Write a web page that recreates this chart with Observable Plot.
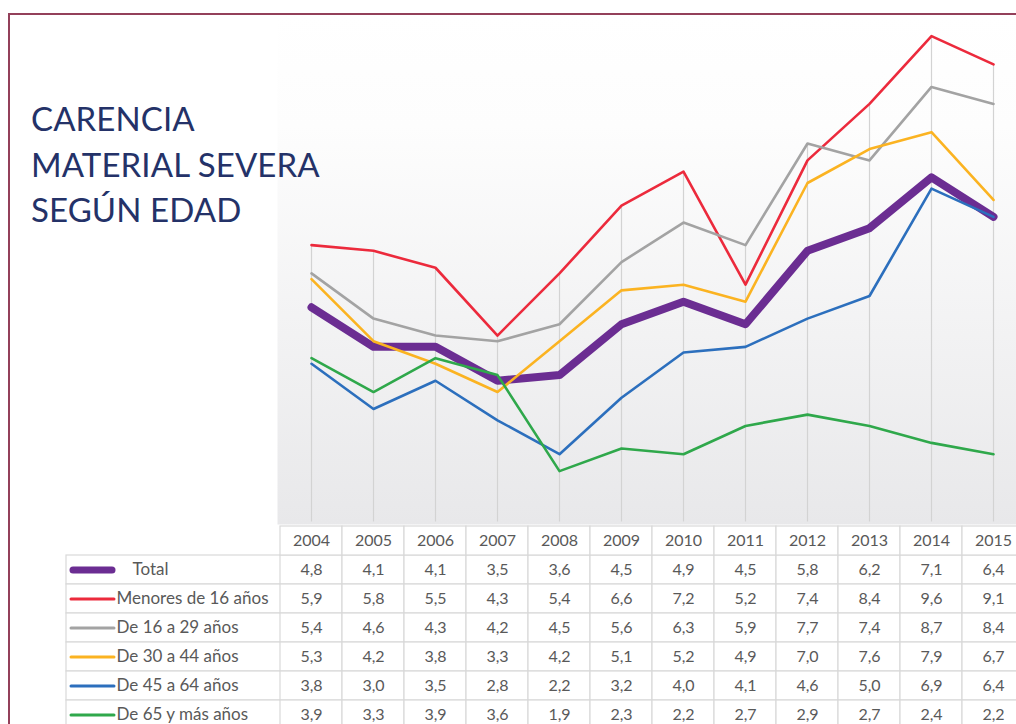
<!DOCTYPE html>
<html>
<head>
<meta charset="utf-8">
<script src="https://cdn.jsdelivr.net/npm/d3@7"></script>
<script src="https://cdn.jsdelivr.net/npm/@observablehq/plot@0.6"></script>
<style>
  html, body { margin: 0; padding: 0; background: #ffffff; }
  #wrap { position: relative; width: 1016px; height: 724px; overflow: hidden; background: #fff; }
  #border { position: absolute; left: 8px; top: 13px; width: 1100px; height: 800px;
            border-top: 2px solid #93405a; border-left: 2px solid #93405a; pointer-events: none; }
  .title { position: absolute; left: 31px; top: 96px; font-family: Lato, "Open Sans", sans-serif;
           font-size: 33px; line-height: 45.5px; color: #243268; letter-spacing: 0.1px; }
  .layer { position: absolute; left: 0; }
  .layer svg { overflow: visible; }
</style>
</head>
<body>
<div id="wrap">
  <div id="chart" class="layer" style="top:0px"></div>
  <div id="table" class="layer" style="top:520px"></div>
  <div class="title">CARENCIA<br>MATERIAL SEVERA<br>SEGÚN EDAD</div>
  <div id="border"></div>
</div>
<script>
// ---- data ----
const years = [2004, 2005, 2006, 2007, 2008, 2009, 2010, 2011, 2012, 2013, 2014, 2015];
const seriesNames = ["Total", "Menores de 16 años", "De 16 a 29 años", "De 30 a 44 años", "De 45 a 64 años", "De 65 y más años"];
const total      = [4.8, 4.1, 4.1, 3.5, 3.6, 4.5, 4.9, 4.5, 5.8, 6.2, 7.1, 6.4];
const menores16  = [5.9, 5.8, 5.5, 4.3, 5.4, 6.6, 7.2, 5.2, 7.4, 8.4, 9.6, 9.1];
const de16a29    = [5.4, 4.6, 4.3, 4.2, 4.5, 5.6, 6.3, 5.9, 7.7, 7.4, 8.7, 8.4];
const de30a44    = [5.3, 4.2, 3.8, 3.3, 4.2, 5.1, 5.2, 4.9, 7.0, 7.6, 7.9, 6.7];
const de45a64    = [3.8, 3.0, 3.5, 2.8, 2.2, 3.2, 4.0, 4.1, 4.6, 5.0, 6.9, 6.4];
const de65ymas   = [3.9, 3.3, 3.9, 3.6, 1.9, 2.3, 2.2, 2.7, 2.9, 2.7, 2.4, 2.2];
const seriesColors = ["#6b2d92", "#ec2a3c", "#a3a3a3", "#fbb321", "#2c6fbd", "#2fa84b"];

// ---- derived tables ----
const seriesValues = [total, menores16, de16a29, de30a44, de45a64, de65ymas];
const long = [];
seriesNames.forEach((name, i) => {
  years.forEach((yr, j) => long.push({series: name, year: yr, value: seriesValues[i][j]}));
});
const maxByYear = years.map((yr, j) => ({year: yr, max: d3.max(seriesValues, s => s[j])}));
const colorScale = {domain: seriesNames, range: seriesColors};
const fmt = v => d3.format(".1f")(v).replace(".", ",");

// ---- line chart ----
const defsMark = () => {
  const defs = d3.create("svg:defs");
  const g = defs.append("linearGradient").attr("id", "bgGrad")
    .attr("x1", 0).attr("y1", 0).attr("x2", 0).attr("y2", 1);
  g.append("stop").attr("offset", "0").attr("stop-color", "#ffffff");
  g.append("stop").attr("offset", "0.22").attr("stop-color", "#fdfdfd");
  g.append("stop").attr("offset", "1").attr("stop-color", "#e8e8ea");
  return defs.node();
};

const chart = Plot.plot({
  width: 1016,
  height: 524,
  marginLeft: 277,
  marginRight: 0,
  marginTop: 13,
  marginBottom: 0,
  x: {type: "point", domain: years, range: [308, 995], padding: 0, axis: null},
  y: {type: "linear", domain: [1, 10], range: [521.5, 13], axis: null},
  color: colorScale,
  style: {background: "transparent", overflow: "visible"},
  marks: [
    defsMark,
    Plot.frame({fill: "url(#bgGrad)", stroke: null}),
    Plot.ruleX(maxByYear, {x: "year", y1: 1, y2: "max", stroke: "#d3d3d3", strokeWidth: 1.2}),
    Plot.line(long.filter(d => d.series === "Total"), {
      x: "year", y: "value", stroke: "series", strokeWidth: 8, strokeLinejoin: "round", strokeLinecap: "round"
    }),
    Plot.line(long.filter(d => d.series !== "Total"), {
      x: "year", y: "value", z: "series", stroke: "series", strokeWidth: 2.6, strokeLinejoin: "round", strokeLinecap: "round"
    })
  ]
});
document.getElementById("chart").appendChild(chart);

// ---- data table ----
const rows = ["header", ...seriesNames];
const rowH = 29.6;
const table = Plot.plot({
  width: 1016,
  height: 204,
  marginLeft: 66,
  marginRight: 0,
  marginTop: 0,
  marginBottom: 0,
  x: {type: "band", domain: years, range: [277, 277 + 12 * 62.45], padding: 0, axis: null},
  y: {type: "band", domain: rows, range: [4, 4 + 7 * rowH], padding: 0, axis: null},
  color: colorScale,
  style: {background: "transparent", overflow: "visible", fontFamily: "Lato, 'Open Sans', sans-serif"},
  marks: [
    Plot.cell(seriesNames, {y: d => d, fill: "#ffffff", stroke: "#d9d9d9", strokeWidth: 1.2}),
    Plot.cell(long, {x: "year", y: "series", fill: "#ffffff", stroke: "#d9d9d9", strokeWidth: 1.2}),
    Plot.cell(years, {x: d => d, y: () => "header", fill: "#ffffff", stroke: "#d9d9d9", strokeWidth: 1.2}),
    Plot.text(years, {x: d => d, y: () => "header", text: d => String(d), fill: "#595959", fontSize: 16}),
    Plot.text(long, {x: "year", y: "series", text: d => fmt(d.value), fill: "#595959", fontSize: 16}),
    Plot.ruleY(seriesNames.slice(0, 1), {y: d => d, stroke: d => d, insetLeft: 7, insetRight: 1016 - 66 - 46, strokeWidth: 7, strokeLinecap: "round"}),
    Plot.ruleY(seriesNames.slice(1), {y: d => d, stroke: d => d, insetLeft: 5, insetRight: 1016 - 66 - 48, strokeWidth: 3, strokeLinecap: "round"}),
    Plot.text(seriesNames.slice(0, 1), {
      y: d => d, text: d => d, frameAnchor: "left", textAnchor: "start",
      dx: 66, fill: "#595959", fontSize: 17
    }),
    Plot.text(seriesNames.slice(1), {
      y: d => d, text: d => d, frameAnchor: "left", textAnchor: "start",
      dx: 50, fill: "#595959", fontSize: 17
    })
  ]
});
document.getElementById("table").appendChild(table);
</script>
</body>
</html>
